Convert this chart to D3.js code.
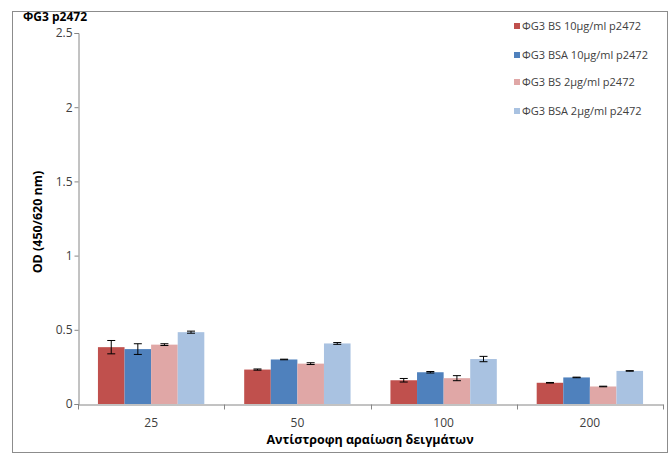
<!DOCTYPE html>
<html><head><meta charset="utf-8">
<script src="https://cdn.jsdelivr.net/npm/d3@7"></script>
<style>body{margin:0;background:#fff}svg{display:block}</style>
</head><body>
<script>
const categories = ["25", "50", "100", "200"];
const seriesNames = ["ΦG3 BS 10μg/ml p2472", "ΦG3 BSA 10μg/ml p2472", "ΦG3 BS 2μg/ml p2472", "ΦG3 BSA 2μg/ml p2472"];
const bs10 = [0.383, 0.232, 0.160, 0.143];
const bsa10 = [0.370, 0.300, 0.214, 0.179];
const bs2 = [0.400, 0.272, 0.174, 0.118];
const bsa2 = [0.484, 0.408, 0.303, 0.223];
const errBs10 = [0.045, 0.004, 0.012, 0.002];
const errBsa10 = [0.036, 0.002, 0.005, 0.002];
const errBs2 = [0.006, 0.006, 0.017, 0.002];
const errBsa2 = [0.007, 0.006, 0.018, 0.002];
const yTicks = [0, 0.5, 1, 1.5, 2, 2.5];
const colors = ["#C0504D", "#4F81BD", "#E0A7A6", "#A9C2E1"];

const values = [bs10, bsa10, bs2, bsa2];
const errs = [errBs10, errBsa10, errBs2, errBsa2];

const W = 670, H = 455;
const svg = d3.select("body").append("svg").attr("width", W).attr("height", H);
const font = "'Open Sans', sans-serif";

svg.append("rect").attr("x", 12.5).attr("y", 11.5).attr("width", 655).attr("height", 441)
  .attr("fill", "#fff").attr("stroke", "#8c8c8c").attr("stroke-width", 1);

const x0 = 78, x1 = 663, y0 = 404, y1 = 33;
const x = d3.scaleBand().domain(categories).range([x0, x1]).paddingInner(0).paddingOuter(0);
const y = d3.scaleLinear().domain([0, 2.5]).range([y0, y1]);
const groupW = x.bandwidth() * 4 / 5.5;
const xs = d3.scaleBand().domain(d3.range(4)).range([0, groupW]);

const g = svg.append("g");
values.forEach((vals, si) => {
  const sg = g.append("g");
  sg.selectAll("rect").data(categories).join("rect")
    .attr("x", (c) => x(c) + (x.bandwidth() - groupW) / 2 + xs(si))
    .attr("y", (c, i) => y(vals[i]))
    .attr("width", xs.bandwidth())
    .attr("height", (c, i) => y(0) - y(vals[i]))
    .attr("fill", colors[si]);
  sg.selectAll("g.err").data(categories).join("g").attr("class", "err").each(function(c, i) {
    const cx = x(c) + (x.bandwidth() - groupW) / 2 + xs(si) + xs.bandwidth() / 2;
    const top = y(vals[i] + errs[si][i]), bot = y(vals[i] - errs[si][i]);
    const e = d3.select(this);
    e.append("line").attr("x1", cx).attr("x2", cx).attr("y1", top).attr("y2", bot).attr("stroke", "#000").attr("stroke-width", 1);
    e.append("line").attr("x1", cx - 4).attr("x2", cx + 4).attr("y1", top).attr("y2", top).attr("stroke", "#000").attr("stroke-width", 1);
    e.append("line").attr("x1", cx - 4).attr("x2", cx + 4).attr("y1", bot).attr("y2", bot).attr("stroke", "#000").attr("stroke-width", 1);
  });
});

// Y axis
const yAxis = d3.axisLeft(y).tickValues(yTicks).tickSize(4).tickFormat(d3.format("~g"));
const ya = svg.append("g").attr("transform", `translate(${x0 + 0.5},0)`).call(yAxis);
ya.select(".domain").attr("stroke", "#868686");
ya.selectAll(".tick line").attr("stroke", "#868686");
ya.selectAll(".tick text").attr("font-family", font).attr("font-size", 12).attr("fill", "#404040").attr("x", -6);

// X axis
const xAxis = d3.axisBottom(x).tickSize(0).tickSizeOuter(0);
const xa = svg.append("g").attr("transform", `translate(0,${y0 + 0.5})`).call(xAxis);
xa.select(".domain").attr("stroke", "#868686");
xa.selectAll(".tick text").attr("font-family", font).attr("font-size", 12).attr("fill", "#404040").attr("dy", 0).attr("y", 22);
const bounds = categories.map(c => x(c)).concat([x1]);
xa.selectAll(".sep").data(bounds).join("line").attr("class", "sep")
  .attr("x1", d => Math.round(d) + 0.5).attr("x2", d => Math.round(d) + 0.5).attr("y1", 0).attr("y2", 5).attr("stroke", "#868686");

// Titles
svg.append("text").attr("x", 23).attr("y", 21).text("ΦG3 p2472")
  .attr("font-family", font).attr("font-weight", "bold").attr("font-size", 12).attr("fill", "#000");
svg.append("text").attr("transform", "translate(42,222) rotate(-90)").attr("text-anchor", "middle")
  .text("OD (450/620 nm)").attr("font-family", font).attr("font-weight", "bold").attr("font-size", 12.5).attr("fill", "#000");
svg.append("text").attr("x", 370).attr("y", 444).attr("text-anchor", "middle")
  .text("Αντίστροφη αραίωση δειγμάτων").attr("font-family", font).attr("font-weight", "bold").attr("font-size", 12.5).attr("fill", "#000");

// Legend
const legY = [26, 55, 82, 111];
const leg = svg.append("g");
seriesNames.forEach((n, i) => {
  leg.append("rect").attr("x", 514).attr("y", legY[i] - 3).attr("width", 6).attr("height", 6).attr("fill", colors[i]);
  leg.append("text").attr("x", 522).attr("y", legY[i] + 4).text(n)
    .attr("font-family", font).attr("font-size", 11).attr("fill", "#404040");
});
</script>
</body></html>
